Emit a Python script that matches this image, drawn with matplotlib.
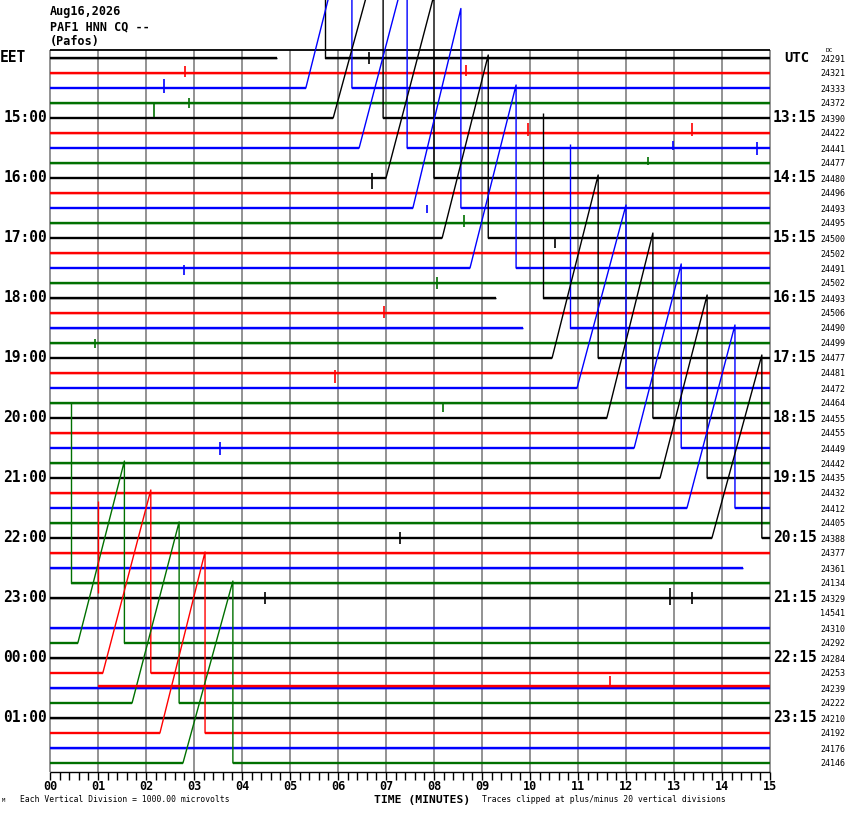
import numpy as np
import matplotlib
matplotlib.use("Agg")
import matplotlib.pyplot as plt

W, H = 850, 814

# ---------------- data ----------------
date_label = "Aug16,2026"
station_label = "PAF1 HNN CQ --"
site_label = "(Pafos)"
left_zone = "EET"
right_zone = "UTC"
left_labels = ["15:00", "16:00", "17:00", "18:00", "19:00", "20:00",
               "21:00", "22:00", "23:00", "00:00", "01:00"]
right_labels = ["13:15", "14:15", "15:15", "16:15", "17:15", "18:15",
                "19:15", "20:15", "21:15", "22:15", "23:15"]
label_traces = [4, 8, 12, 16, 20, 24, 28, 32, 36, 40, 44]
dc_values = [24291, 24321, 24333, 24372, 24390, 24422, 24441, 24477,
             24480, 24496, 24493, 24495, 24500, 24502, 24491, 24502,
             24493, 24506, 24490, 24499, 24477, 24481, 24472, 24464,
             24455, 24455, 24449, 24442, 24435, 24432, 24412, 24405,
             24388, 24377, 24361, 24134, 24329, 14541, 24310, 24292,
             24284, 24253, 24239, 24222, 24210, 24192, 24176, 24146]
trace_colors = ["#000000", "#ff0000", "#0000ff", "#007000"]
n_traces = 48
minute_ticks = list(range(16))
tick_labels = ["%02d" % m for m in minute_ticks]

# ramp events (minutes, height in vertical divisions)
ramp_trace = [2, 4, 6, 8, 10, 12, 14, 20, 22, 24, 26, 28, 30, 32, 39, 41, 43, 45, 47]
ramp_start = [5.33, 5.90, 6.44, 7.00, 7.56, 8.17, 8.75, 10.46, 10.98, 11.60,
              12.17, 12.71, 13.27, 13.79, 0.58, 1.10, 1.71, 2.29, 2.77]
ramp_peak = [6.29, 6.94, 7.44, 8.00, 8.56, 9.13, 9.71, 11.42, 12.00, 12.56,
             13.15, 13.69, 14.27, 14.83, 1.55, 2.10, 2.69, 3.23, 3.81]
ramp_height = [12.2, 12.2, 12.2, 12.2, 13.3, 12.2, 12.2, 12.2, 12.2, 12.33,
               12.27, 12.2, 12.2, 12.2, 12.13, 12.2, 12.07, 12.07, 12.13]

# data gaps followed by a drop from the peak
gap_trace = [0, 16, 18, 35]
gap_start = [4.73, 9.29, 9.85, 0.0]
gap_end = [5.73, 10.27, 10.83, 0.43]
gap_height = [12.2, 12.33, 12.27, 12.0]

# traces ending early
end_trace = [34]
end_minute = [14.44]

# trace 37 (bad DC): a clipped vertical piece, then shifted level
odd_trace = 37
odd_vert_t = 0.994
odd_vert_top = 7.47
odd_vert_bottom = 1.33
odd_level_start = 1.005
odd_level = -4.87

# visible spikes: trace, minute, top, bottom (divisions rel. to baseline)
spike_trace = [0, 1, 1, 2, 3, 3, 5, 5, 6, 6, 7, 8, 10, 11, 12, 14, 15, 17,
               19, 21, 23, 26, 32, 36, 36, 36, 37]
spike_min = [6.65, 2.81, 8.67, 2.38, 2.17, 2.90, 9.96, 13.38, 14.73, 12.98,
             12.46, 6.71, 7.85, 8.63, 10.52, 2.79, 8.06, 6.96, 0.94, 5.94,
             8.19, 3.54, 7.29, 12.92, 13.38, 4.48, 11.67]
spike_top = [0.4, 0.47, 0.53, 0.6, 0.1, 0.33, 0.67, 0.67, 0.4, 0.47, 0.4,
             0.33, 0.2, 0.53, 0.1, 0.2, 0.4, 0.47, 0.3, 0.2, 0.1, 0.4, 0.4,
             0.67, 0.4, 0.4, -4.2]
spike_bottom = [-0.4, -0.27, -0.2, -0.33, -0.93, -0.33, -0.2, -0.2, -0.47,
                -0.1, -0.1, -0.73, -0.33, -0.27, -0.67, -0.47, -0.4, -0.33,
                -0.3, -0.67, -0.6, -0.47, -0.4, -0.47, -0.4, -0.4, -4.95]

clip_div = 20

# ---------------- layout helpers ----------------
X0, PXMIN = 50, 48.0
Y0, PXTR = 58, 15.0


def u(py):
    return (py - Y0) / PXTR


def ftext(px, py, s, **kw):
    fig.text(px / W, 1 - py / H, s, **kw)


fig = plt.figure(figsize=(W / 100, H / 100), dpi=100)
fig.patch.set_facecolor("white")
ax = fig.add_axes([X0 / W, 0, 720 / W, 1])
ax.set_xlim(0, 15)
ax.set_ylim(u(H), u(0))
ax.axis("off")

gray = "#8a8a8a"
ax.vlines(minute_ticks, u(50), u(772), color=gray, lw=1.3, zorder=1, clip_on=False)
ax.hlines(u(50), 0, 15, color="black", lw=1.3, zorder=3)


def build(i):
    if i in ramp_trace:
        k = ramp_trace.index(i)
        return [0, ramp_start[k], ramp_peak[k], ramp_peak[k], 15], [0, 0, ramp_height[k], 0, 0]
    if i in gap_trace:
        k = gap_trace.index(i)
        ts, os = [], []
        if gap_start[k] > 0:
            ts += [0, gap_start[k], np.nan]
            os += [0, 0, np.nan]
        ts += [gap_end[k], gap_end[k], 15]
        os += [gap_height[k], 0, 0]
        return ts, os
    if i in end_trace:
        k = end_trace.index(i)
        return [0, end_minute[k]], [0, 0]
    if i == odd_trace:
        return ([odd_vert_t, odd_vert_t, np.nan, odd_level_start, 15],
                [odd_vert_top, odd_vert_bottom, np.nan, odd_level, odd_level])
    return [0, 15], [0, 0]


for i in range(n_traces):
    col = trace_colors[i % 4]
    z = 6 if i == odd_trace else 4
    ts, os = build(i)
    ts = np.array(ts, float)
    os = np.clip(np.array(os, float), -clip_div, clip_div)
    ax.plot(ts, i - os, color=col, lw=1.0, zorder=z, solid_capstyle="butt")
    # flat parts drawn thicker (noisy trace band)
    for a in range(len(ts) - 1):
        if np.isnan(os[a]) or np.isnan(os[a + 1]):
            continue
        if os[a] == os[a + 1] and ts[a + 1] > ts[a]:
            ax.plot([ts[a], ts[a + 1]], [i - os[a], i - os[a]], color=col,
                    lw=1.7, zorder=z, solid_capstyle="butt")

for k in range(len(spike_trace)):
    i = spike_trace[k]
    ax.vlines(spike_min[k], i - spike_top[k], i - spike_bottom[k],
              color=trace_colors[i % 4], lw=1.2, zorder=7)

# bottom time axis
ax.hlines(u(772), 0, 15, color="black", lw=1.0, clip_on=False, zorder=3)
ax.vlines(np.arange(0, 15.001, 0.2), u(772), u(780), color="black", lw=1.0,
          clip_on=False, zorder=3)

mono = "DejaVu Sans Mono"
for m, lab in zip(minute_ticks, tick_labels):
    ftext(X0 + PXMIN * m, 786.5, lab, ha="center", va="center", fontsize=8.5,
          family=mono, fontweight="bold")

ftext(422, 800, "TIME (MINUTES)", ha="center", va="center", fontsize=8.2,
      family=mono, fontweight="bold")
ftext(20, 800, "Each Vertical Division = 1000.00 microvolts", ha="left",
      va="center", fontsize=5.8, family=mono)
ftext(482, 800, "Traces clipped at plus/minus 20 vertical divisions", ha="left",
      va="center", fontsize=5.8, family=mono)
ftext(2, 801, "M", ha="left", va="center", fontsize=4, family=mono)

# header
ftext(50, 12, date_label, ha="left", va="center", fontsize=8.5, family=mono, fontweight="bold")
ftext(50, 27, station_label, ha="left", va="center", fontsize=8.5, family=mono, fontweight="bold")
ftext(50, 42, site_label, ha="left", va="center", fontsize=8.5, family=mono, fontweight="bold")

# side labels
ftext(0, Y0, left_zone, ha="left", va="center", fontsize=10.5, family=mono, fontweight="bold")
ftext(784, Y0, right_zone, ha="left", va="center", fontsize=10, family=mono, fontweight="bold")
for i, l, r in zip(label_traces, left_labels, right_labels):
    py = Y0 + PXTR * i
    ftext(47, py, l, ha="right", va="center", fontsize=10.5, family=mono, fontweight="bold")
    ftext(773, py, r, ha="left", va="center", fontsize=10.5, family=mono, fontweight="bold")

ftext(826, 51, "DC", ha="left", va="center", fontsize=4.5, family=mono)
for i, v in enumerate(dc_values):
    ftext(820, Y0 + PXTR * i + 1, str(v), ha="left", va="center", fontsize=6, family=mono)

fig.savefig("out.png", dpi=100, facecolor="white")
